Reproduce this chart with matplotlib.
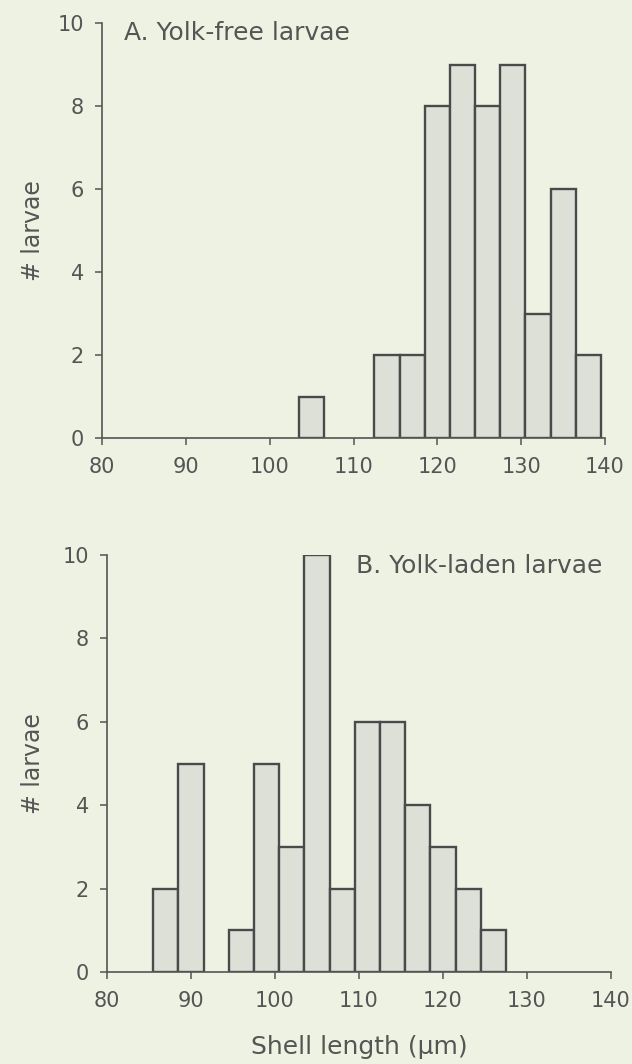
import matplotlib
matplotlib.use("Agg")
import matplotlib.pyplot as plt

plt.rcParams['font.family'] = ['DejaVu Sans']

# bin centres (um) and counts, bin width 3 um
free_len = [105, 114, 117, 120, 123, 126, 129, 132, 135, 138]
free_n = [1, 2, 2, 8, 9, 8, 9, 3, 6, 2]

laden_len = [87, 90, 96, 99, 102, 105, 108, 111, 114, 117, 120, 123, 126]
laden_n = [2, 5, 1, 5, 3, 10, 2, 6, 6, 4, 3, 2, 1]

bg = '#eef2e3'
ink = '#555555'
W, H = 632, 1064

fig = plt.figure(figsize=(W / 100, H / 100), dpi=100, facecolor=bg)

def panel(l, r, t, b, xs, ns, title, tx, ty):
    ax = fig.add_axes([l / W, 1 - b / H, (r - l) / W, (b - t) / H])
    ax.set_facecolor(bg)
    ax.bar(xs, ns, width=3, color='#dde0d7', edgecolor='#4a4a4a', linewidth=1.7)
    ax.set_xlim(80, 140)
    ax.set_ylim(0, 10)
    ax.set_xticks(range(80, 141, 10))
    ax.set_yticks(range(0, 11, 2))
    for s in ['top', 'right']:
        ax.spines[s].set_visible(False)
    for s in ['left', 'bottom']:
        ax.spines[s].set_color(ink)
        ax.spines[s].set_linewidth(1.2)
    ax.tick_params(colors=ink, labelsize=15, length=5, width=1.1)
    ax.tick_params(axis='x', pad=9)
    ax.tick_params(axis='y', pad=8)
    ax.set_ylabel('# larvae', fontsize=17, color=ink, va='center')
    ax.yaxis.set_label_coords((33 - l) / (r - l), 0.5)
    fig.text(tx / W, 1 - ty / H, title, fontsize=18, color=ink, va='center')
    return ax

panel(102, 605, 23, 438, free_len, free_n, 'A. Yolk-free larvae', 124, 33)
ax2 = panel(107, 611, 555, 972, laden_len, laden_n, 'B. Yolk-laden larvae', 356, 566)
ax2.set_xlabel('Shell length (\u00b5m)', fontsize=18, color=ink)
ax2.xaxis.set_label_coords(0.5, -(1047 - 972) / (972 - 555), transform=ax2.transAxes)
ax2.xaxis.label.set_va('center')

fig.savefig('out.png', dpi=100, facecolor=bg)
